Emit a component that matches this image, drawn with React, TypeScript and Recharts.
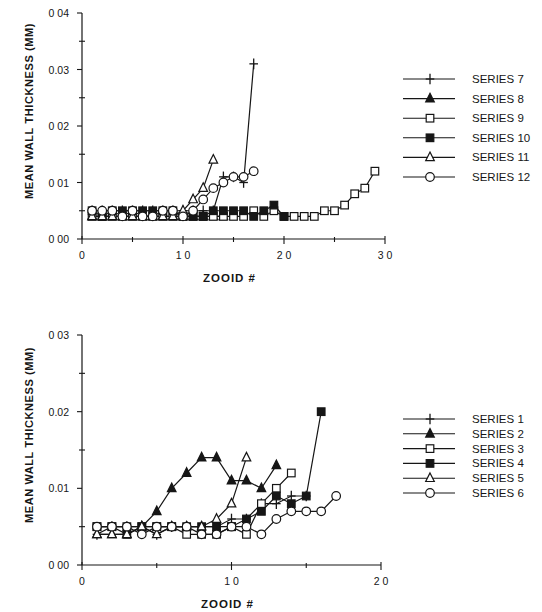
import React from "react";
import { LineChart, Line, XAxis, YAxis } from "recharts";

const FONT = "'Liberation Sans', Arial, sans-serif";
const INK = "#161616";

// top panel: zooid 1..n, mean wall thickness (mm)
const series7 = [0.005, 0.005, 0.005, 0.005, 0.005, 0.005, 0.005, 0.005, 0.005, 0.005, 0.005, 0.005, 0.005, 0.011, 0.011, 0.01, 0.031];
const series8 = [0.004, 0.004, 0.004, 0.004, 0.004, 0.004, 0.004, 0.004, 0.004, 0.004, 0.004, 0.004, 0.004, 0.004];
const series9 = [0.004, 0.004, 0.004, 0.004, 0.004, 0.004, 0.004, 0.004, 0.004, 0.004, 0.004, 0.004, 0.004, 0.004, 0.004, 0.004, 0.005, 0.004, 0.005, 0.004, 0.004, 0.004, 0.004, 0.005, 0.005, 0.006, 0.008, 0.009, 0.012];
const series10 = [0.005, 0.004, 0.005, 0.005, 0.005, 0.005, 0.005, 0.005, 0.005, 0.004, 0.004, 0.004, 0.005, 0.005, 0.005, 0.005, 0.004, 0.005, 0.006, 0.004];
const series11 = [0.004, 0.004, 0.004, 0.004, 0.004, 0.004, 0.004, 0.004, 0.004, 0.005, 0.007, 0.009, 0.014];
const series12 = [0.005, 0.005, 0.005, 0.004, 0.005, 0.004, 0.004, 0.005, 0.005, 0.004, 0.005, 0.007, 0.009, 0.01, 0.011, 0.011, 0.012];

// bottom panel
const series1 = [0.004, 0.005, 0.005, 0.005, 0.004, 0.005, 0.005, 0.005, 0.005, 0.006, 0.006, 0.008, 0.008, 0.009, 0.009];
const series2 = [0.004, 0.004, 0.004, 0.005, 0.007, 0.01, 0.012, 0.014, 0.014, 0.011, 0.011, 0.01, 0.013];
const series3 = [0.005, 0.005, 0.005, 0.005, 0.005, 0.005, 0.004, 0.004, 0.004, 0.005, 0.004, 0.008, 0.01, 0.012];
const series4 = [0.005, 0.005, 0.004, 0.005, 0.005, 0.005, 0.005, 0.005, 0.005, 0.005, 0.006, 0.007, 0.009, 0.008, 0.009, 0.02];
const series5 = [0.004, 0.004, 0.004, 0.005, 0.004, 0.005, 0.005, 0.005, 0.006, 0.008, 0.014];
const series6 = [0.005, 0.005, 0.005, 0.004, 0.005, 0.005, 0.005, 0.004, 0.004, 0.005, 0.005, 0.004, 0.006, 0.007, 0.007, 0.007, 0.009];

const topXTicks = [0, 5, 10, 15, 20, 25, 30];
const topXLabels = ["0", "10", "20", "30"];
const topYTicks = [0, 0.005, 0.01, 0.015, 0.02, 0.025, 0.03, 0.035, 0.04];
const topYLabels = ["0 00", "0 01", "0 02", "0.03", "0 04"];

const botXTicks = [0, 5, 10, 15, 20];
const botXLabels = ["0", "10", "20"];
const botYTicks = [0, 0.005, 0.01, 0.015, 0.02, 0.025, 0.03];
const botYLabels = ["0 00", "0.01", "0.02", "0 03"];

type Shape = "cross" | "triFill" | "square" | "squareFill" | "tri" | "circle";

const topSeries: { name: string; values: number[]; shape: Shape }[] = [
  { name: "SERIES 7", values: series7, shape: "cross" },
  { name: "SERIES 8", values: series8, shape: "triFill" },
  { name: "SERIES 9", values: series9, shape: "square" },
  { name: "SERIES 10", values: series10, shape: "squareFill" },
  { name: "SERIES 11", values: series11, shape: "tri" },
  { name: "SERIES 12", values: series12, shape: "circle" },
];

const bottomSeries: { name: string; values: number[]; shape: Shape }[] = [
  { name: "SERIES 1", values: series1, shape: "cross" },
  { name: "SERIES 2", values: series2, shape: "triFill" },
  { name: "SERIES 3", values: series3, shape: "square" },
  { name: "SERIES 4", values: series4, shape: "squareFill" },
  { name: "SERIES 5", values: series5, shape: "tri" },
  { name: "SERIES 6", values: series6, shape: "circle" },
];

const toPoints = (vals: number[]) => vals.map((v, i) => ({ x: i + 1, y: v }));

function Marker({ shape, cx, cy }: { shape: Shape; cx: number; cy: number }) {
  const s = 4.3;
  switch (shape) {
    case "cross":
      return (
        <g stroke={INK} strokeWidth={1.3}>
          <line x1={cx - s} x2={cx + s} y1={cy} y2={cy} />
          <line x1={cx} x2={cx} y1={cy - s - 1} y2={cy + s + 1} />
        </g>
      );
    case "triFill":
    case "tri":
      return (
        <polygon
          points={`${cx},${cy - s - 1} ${cx + s},${cy + s - 1} ${cx - s},${cy + s - 1}`}
          fill={shape === "tri" ? "#fff" : INK}
          stroke={INK}
          strokeWidth={1.2}
        />
      );
    case "square":
    case "squareFill":
      return (
        <rect
          x={cx - s + 0.5}
          y={cy - s + 0.5}
          width={2 * s - 1}
          height={2 * s - 1}
          fill={shape === "square" ? "#fff" : INK}
          stroke={INK}
          strokeWidth={1.2}
        />
      );
    default:
      return <circle cx={cx} cy={cy} r={s} fill="#fff" stroke={INK} strokeWidth={1.2} />;
  }
}

function XTick(props: any) {
  const { x, y, payload, labels } = props;
  const v = payload.value as number;
  const major = v % 10 === 0;
  return (
    <g>
      <line x1={x} x2={x} y1={major ? y - 3 : y - 2} y2={major ? y + 5 : y + 3} stroke={INK} strokeWidth={1.1} />
      {major && (
        <text x={x + 1.5} y={y + 20} textAnchor="middle" fontSize={10.5} letterSpacing={3} fontFamily={FONT} fill={INK}>
          {labels[v / 10]}
        </text>
      )}
    </g>
  );
}

function YTick(props: any) {
  const { x, y, payload, index, labels } = props;
  const major = index % 2 === 0;
  return (
    <g>
      <line x1={major ? x - 5 : x - 3} x2={major ? x : x + 3} y1={y} y2={y} stroke={INK} strokeWidth={1.1} />
      {major && (
        <text x={x - 13} y={y + 4} textAnchor="end" fontSize={10.5} fontFamily={FONT} fill={INK}>
          {labels[index / 2]}
        </text>
      )}
    </g>
  );
}

function Panel({
  series,
  xMax,
  xTicks,
  xLabels,
  yMax,
  yTicks,
  yLabels,
  width,
  height,
  margin,
  xAxisHeight,
  xTitleDy,
  yTitleDy,
}: any) {
  return (
    <LineChart width={width} height={height} data={[]} margin={margin}>
      <XAxis
        dataKey="x"
        type="number"
        domain={[0, xMax]}
        ticks={xTicks}
        interval={0}
        height={xAxisHeight}
        axisLine={{ stroke: INK, strokeWidth: 1.2 }}
        tickLine={false}
        tickSize={0}
        tickMargin={0}
        tick={(p: any) => <XTick {...p} labels={xLabels} />}
        label={{
          content: (p: any) => {
            const vb = p.viewBox;
            return (
              <text
                x={vb.x + vb.width / 2 - 4}
                y={vb.y + xTitleDy}
                textAnchor="middle"
                fontSize={11.5}
                fontWeight="bold"
                letterSpacing={1}
                fontFamily={FONT}
                fill={INK}
              >
                ZOOID #
              </text>
            );
          },
        }}
      />
      <XAxis
        xAxisId="top"
        orientation="top"
        type="number"
        domain={[0, xMax]}
        height={0}
        tick={false}
        tickLine={false}
        axisLine={{ stroke: INK, strokeWidth: 1.2 }}
      />
      <YAxis
        type="number"
        domain={[0, yMax]}
        ticks={yTicks}
        interval={0}
        width={82}
        axisLine={{ stroke: INK, strokeWidth: 1.2 }}
        tickLine={false}
        tickSize={0}
        tickMargin={0}
        tick={(p: any) => <YTick {...p} labels={yLabels} />}
        label={{
          content: (p: any) => {
            const vb = p.viewBox;
            const cx = 29;
            const cy = vb.y + vb.height / 2 + yTitleDy;
            return (
              <text
                x={cx}
                y={cy}
                transform={`rotate(-90 ${cx} ${cy})`}
                textAnchor="middle"
                dominantBaseline="central"
                fontSize={11}
                fontWeight="bold"
                letterSpacing={0.6}
                fontFamily={FONT}
                fill={INK}
              >
                MEAN WALL THICKNESS (MM)
              </text>
            );
          },
        }}
      />
      {series.map((s: any) => (
        <Line
          key={s.name}
          data={toPoints(s.values)}
          dataKey="y"
          stroke={INK}
          strokeWidth={1.2}
          isAnimationActive={false}
          dot={(p: any) => <Marker key={`${s.name}-${p.index}`} shape={s.shape} cx={p.cx} cy={p.cy} />}
        />
      ))}
    </LineChart>
  );
}

function SeriesLegend({ series, top, step }: { series: { name: string; shape: Shape }[]; top: number; step: number }) {
  return (
    <svg width={142} height={step * series.length + 10} style={{ position: "absolute", left: 400, top }}>
      {series.map((s, i) => {
        const y = 6 + i * step;
        return (
          <g key={s.name}>
            <line x1={3} x2={55} y1={y} y2={y} stroke={INK} strokeWidth={1.1} />
            <Marker shape={s.shape} cx={30} cy={y} />
            <text x={72} y={y + 4} fontSize={11.5} fontFamily={FONT} fill={INK}>
              {s.name}
            </text>
          </g>
        );
      })}
    </svg>
  );
}

export default function App() {
  return (
    <div style={{ position: "absolute", left: 0, top: 0, width: 542, height: 612, background: "#fff", overflow: "hidden" }}>
      <div style={{ position: "absolute", left: 0, top: 0 }}>
        <Panel
          series={topSeries}
          xMax={30}
          xTicks={topXTicks}
          xLabels={topXLabels}
          yMax={0.04}
          yTicks={topYTicks}
          yLabels={topYLabels}
          width={400}
          height={300}
          margin={{ top: 13, right: 15, bottom: 0, left: 0 }}
          xAxisHeight={61}
          xTitleDy={43}
          yTitleDy={-15}
        />
      </div>
      <SeriesLegend series={topSeries} top={73} step={19.6} />
      <div style={{ position: "absolute", left: 0, top: 300 }}>
        <Panel
          series={bottomSeries}
          xMax={20}
          xTicks={botXTicks}
          xLabels={botXLabels}
          yMax={0.03}
          yTicks={botYTicks}
          yLabels={botYLabels}
          width={400}
          height={312}
          margin={{ top: 35, right: 19, bottom: 0, left: 0 }}
          xAxisHeight={47}
          xTitleDy={43}
          yTitleDy={-15}
        />
      </div>
      <SeriesLegend series={bottomSeries} top={413} step={14.8} />
    </div>
  );
}
